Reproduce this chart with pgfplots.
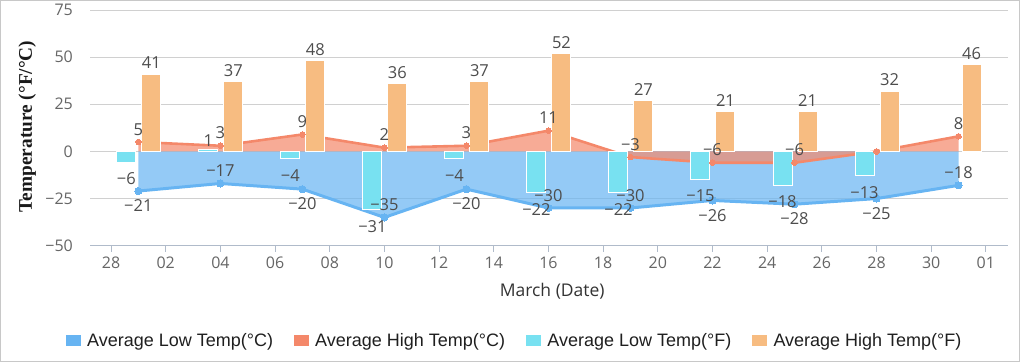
\documentclass[border=0pt]{standalone}
\usepackage{pgfplots}
\pgfplotsset{compat=1.18}
\usepackage{fontspec}
\setmainfont{Open Sans}
\newfontfamily\legfont{Liberation Sans}
\newfontfamily\ttlfont{Liberation Serif}
\definecolor{lowC}{HTML}{67B4F2}
\definecolor{highC}{HTML}{F4886A}
\definecolor{lowF}{HTML}{78E1F1}
\definecolor{highF}{HTML}{F7BC81}
\definecolor{gridc}{HTML}{D0D0D0}
\definecolor{axisc}{HTML}{B0BBCA}
\definecolor{tickc}{HTML}{666666}
\definecolor{labc}{HTML}{4D4D4D}
\definecolor{framec}{HTML}{C8C8C8}
\pgfplotsset{
  lbl/.style={draw=none, mark=none, forget plot,
    nodes near coords={\pgfplotspointmeta},
    point meta=explicit symbolic,
    visualization depends on={value \thisrow{anc} \as \lanc},
    visualization depends on={\thisrow{dy} \as \ldy},
    nodes near coords style={anchor=\lanc, yshift=\ldy pt, inner sep=0pt,
      font=\fontsize{16.5}{19}\selectfont, text=labc}},
}
\begin{document}
\begin{tikzpicture}
\path[use as bounding box] (0,0) rectangle (1020pt,362pt);
\draw[framec, line width=1pt] (0.5pt,0.5pt) rectangle (1019.5pt,361.5pt);
\begin{axis}[
  at={(90pt,116.3pt)}, anchor=south west,
  scale only axis, width=918pt, height=235.7pt,
  xmin=-0.77, xmax=32.81, ymin=-50, ymax=75,
  axis x line*=bottom, axis y line*=left,
  x axis line style={axisc, line width=1pt},
  y axis line style={draw=none},
  xtick={0,2,...,32},
  xticklabels={28,02,04,06,08,10,12,14,16,18,20,22,24,26,28,30,01},
  ytick={-50,-25,0,25,50,75},
  yticklabels={−50,−25,0,25,50,75},
  tick align=outside, major tick length=6pt,
  xtick style={axisc, line width=1pt},
  ytick style={draw=none},
  ymajorgrids, grid style={gridc, line width=1pt},
  xticklabel style={font=\fontsize{16}{19}\selectfont, text=tickc, inner sep=0pt, anchor=north, yshift=-5.3pt},
  yticklabel style={font=\fontsize{16}{19}\selectfont, text=tickc, inner sep=0pt, anchor=east, xshift=-11pt},
  xlabel={March (Date)},
  xlabel style={at={(axis description cs:0.5035,-0.194)}, anchor=center, font=\fontsize{17.5}{20}\selectfont, text=black!80},
  ylabel={Temperature (°F/°C)},
  ylabel style={at={(axis description cs:-0.0685,0.506)}, anchor=center, rotate=0, font=\ttlfont\bfseries\fontsize{19.3}{22}\selectfont, text=black!90},
  legend columns=4,
  legend image code/.code={\fill[#1, draw=none] (0pt,-5.8pt) rectangle (15pt,5.8pt); \path (21pt,0pt);},
  legend style={at={(axis description cs:0.4615,-0.402)}, anchor=center, draw=none, fill=none,
    font=\legfont\fontsize{18}{21}\selectfont, text=black!88,
    nodes={inner sep=0pt},
    /tikz/every even column/.append style={column sep=21pt}},
]
% areas
\addplot[draw=none, fill=lowC, fill opacity=0.7, forget plot] table {
x y
1 -21
4 -17
7 -20
10 -35
13 -20
16 -30
19 -30
22 -26
25 -28
28 -25
31 -18
} \closedcycle;
\addplot[lowC, line width=3pt, mark=*, mark size=3.6pt, mark options={line width=0pt, fill=lowC}, forget plot] table {
x y
1 -21
4 -17
7 -20
10 -35
13 -20
16 -30
19 -30
22 -26
25 -28
28 -25
31 -18
};
\addplot[draw=none, fill=highC, fill opacity=0.7, forget plot] table {
x y
1 5
4 3
7 9
10 2
13 3
16 11
19 -3
22 -6
25 -6
28 0
31 8
} \closedcycle;
\addplot[highC, line width=2.6pt, mark=*, mark size=2.8pt, mark options={line width=0pt, fill=highC}, forget plot] table {
x y
1 5
4 3
7 9
10 2
13 3
16 11
19 -3
22 -6
25 -6
28 0
31 8
};
% bars
\addplot[ybar, bar width=19pt, bar shift=-12pt, fill=lowF, draw=white, line width=1pt, forget plot] table {
x y
1 -6
4 1
7 -4
10 -31
13 -4
16 -22
19 -22
22 -15
25 -18
28 -13
};
\addplot[ybar, bar width=19pt, bar shift=13pt, fill=highF, draw=white, line width=1pt, forget plot] table {
x y
1 41
4 37
7 48
10 36
13 37
16 52
19 27
22 21
25 21
28 32
31 46
};
% labels
\addplot[lbl] table[meta=lbl] {
x y lbl anc dy
1 -21 −21 north -8.5
4 -17 −17 south 7
7 -20 −20 north -8.5
10 -35 −35 south 7
13 -20 −20 north -8.5
16 -30 −30 south 6
19 -30 −30 south 6
22 -26 −26 north -8.5
25 -28 −28 north -8.5
28 -25 −25 north -8.5
31 -18 −18 south 7
};
\addplot[lbl] table[meta=lbl] {
x y lbl anc dy
1 5 5 south 6.5
4 3 3 south 6.5
7 9 9 south 6.5
10 2 2 south 6.5
13 3 3 south 6.5
16 11 11 south 6.5
19 -3 −3 south 6.5
22 -6 −6 south 6.5
25 -6 −6 south 6.5
31 8 8 south 6.5
};
\addplot[lbl, nodes near coords style={xshift=-12pt}] table[meta=lbl] {
x y lbl anc dy
1 -6 −6 north -10
4 1 1 south 3
7 -4 −4 north -10
10 -31 −31 north -10
13 -4 −4 north -10
16 -22 −22 north -10.5
19 -22 −22 north -10.5
22 -15 −15 north -10
25 -18 −18 north -10
28 -13 −13 north -10
};
\addplot[lbl, nodes near coords style={xshift=13pt}] table[meta=lbl] {
x y lbl anc dy
1 41 41 south 5
4 37 37 south 5
7 48 48 south 5
10 36 36 south 5
13 37 37 south 5
16 52 52 south 5
19 27 27 south 5
22 21 21 south 5
25 21 21 south 5
28 32 32 south 5
31 46 46 south 5
};
\addlegendimage{fill=lowC}\addlegendentry{Average Low Temp(°C)}
\addlegendimage{fill=highC}\addlegendentry{Average High Temp(°C)}
\addlegendimage{fill=lowF}\addlegendentry{Average Low Temp(°F)}
\addlegendimage{fill=highF}\addlegendentry{Average High Temp(°F)}
\end{axis}
\end{tikzpicture}
\end{document}
